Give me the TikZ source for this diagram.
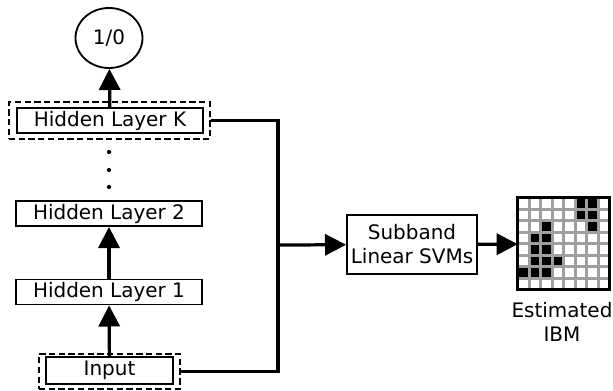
\documentclass[tikz,border=0pt]{standalone}
\usepackage{fontspec}
\setmainfont{DejaVu Sans}
\usetikzlibrary{positioning, shapes.geometric, arrows.meta}

\begin{document}
\begin{tikzpicture}[
        font=\fontsize{14.2}{17}\selectfont,
        layer/.style={draw, line width=1.3pt, minimum width=4.65cm, minimum height=0.625cm, inner sep=0pt},
        frame/.style={draw, dash pattern=on 4.5pt off 2.4pt, line width=2pt, inner sep=0pt},
        link/.style={line width=2.3pt},
        >={Triangle[length=15pt, width=15pt]}
    ]
    \useasboundingbox (0, 0) rectangle (15.325, -9.75);

    \node [ellipse, draw, line width=1.3pt, minimum width=1.675cm, minimum height=1.5cm, inner sep=0pt] (out) at (2.725, -0.95) {1/0};
    \node [layer] (hk) at (2.75, -3.0125) {Hidden Layer K};
    \node [frame, minimum width=5.025cm, minimum height=0.925cm] (hkf) at (2.7375, -3.0125) {};
    \foreach \y [count=\i] in {-3.8, -4.25, -4.675}
        \node [circle, fill, inner sep=0pt, minimum size=3pt] (dot\i) at (2.725, \y) {};
    \node [layer] (h2) at (2.725, -5.3375) {Hidden Layer 2};
    \node [layer] (h1) at (2.725, -7.3) {Hidden Layer 1};
    \node [layer, minimum width=3.175cm, minimum height=0.675cm] (in) at (2.7375, -9.2625) {Input};
    \node [frame, minimum width=3.525cm, minimum height=0.875cm] (inf) at (2.7375, -9.2875) {};

    \coordinate (join) at (6.95, -6.125);
    \node [draw, line width=1.3pt, minimum width=3.25cm, minimum height=1.475cm, align=center, inner sep=0pt] (svm) at (10.3, -6.1125) {Subband\\Linear SVMs};
    \node [minimum size=2.3cm, inner sep=0pt] (ibm) at (14.1, -6.1) {};
    \node [align=center] (ibmlabel) at (14.05, -8.04) {Estimated\\IBM};

    % estimated mask
    \begin{scope}[shift={(ibm.north west)}]
        \foreach \c/\r in {5/0, 6/0, 5/1, 6/1, 2/2, 6/2, 1/3, 2/3, 1/4, 2/4, 1/5, 2/5, 3/5, 0/6, 1/6, 2/6}
            \fill (\c*0.2875, -\r*0.2875) rectangle ++(0.2875, -0.2875);
        \foreach \i in {1,...,7} {
            \draw [gray!75, line width=2.1pt] (\i*0.2875, 0) -- ++(0, -2.3);
            \draw [gray!75, line width=2.1pt] (0, -\i*0.2875) -- ++(2.3, 0);
        }
        \draw [line width=2.1pt] (0, 0) rectangle (2.3, -2.3);
    \end{scope}

    \draw [link, ->] (hk) -- (out);
    \draw [link, ->] (h1) -- (h2);
    \draw [link, ->] (in) -- (h1);
    \draw [link] (hkf.east) -| (join);
    \draw [link] (inf.east) -| (join);
    \draw [link, ->] (join) -- (svm);
    \draw [link, ->] (svm) -- (ibm);
\end{tikzpicture}
\end{document}
